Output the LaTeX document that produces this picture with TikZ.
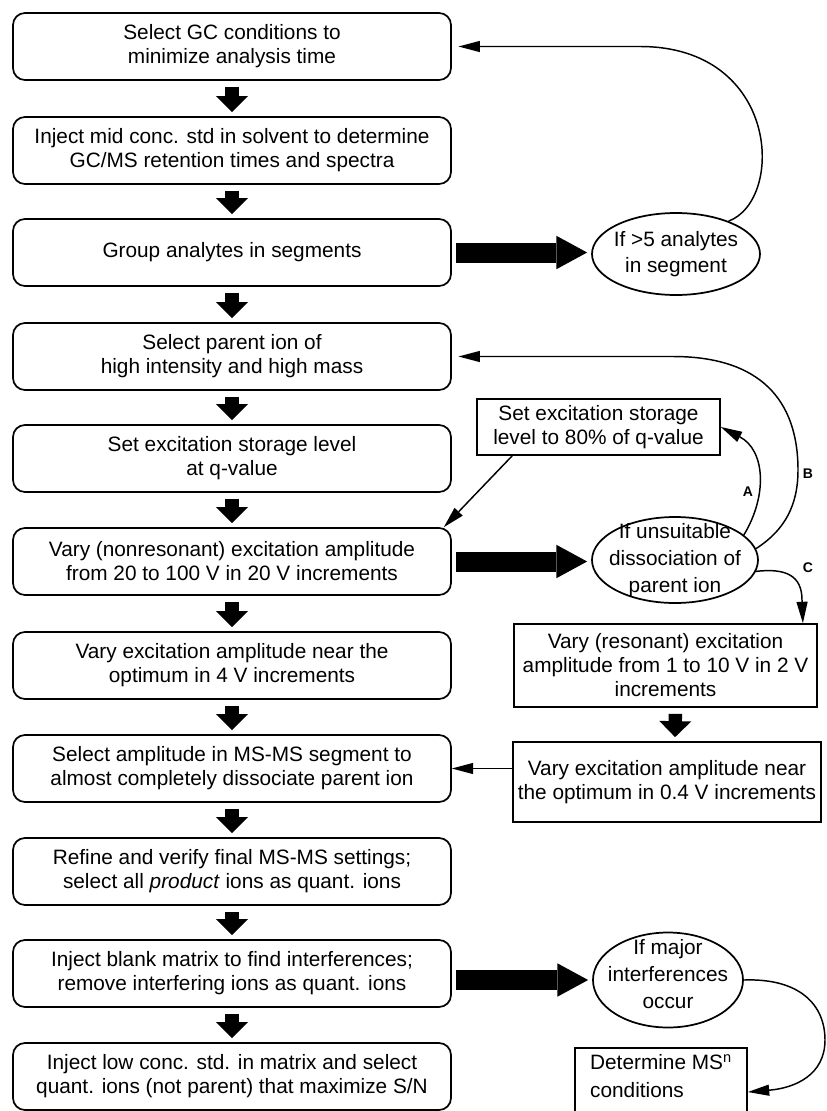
\documentclass[tikz,border=0pt]{standalone}
\usepackage{fontspec}
\setmainfont{Liberation Sans}
\usetikzlibrary{shapes.geometric,arrows.meta,calc}
\begin{document}
\begin{tikzpicture}[x=0.75pt,y=-0.75pt,
  every node/.style={font=\fontsize{15.6pt}{18pt}\selectfont},
  stepbox/.style={draw,line width=1.3pt,rounded corners=9pt,minimum width=328.5pt,minimum height=50.25pt,align=center,inner sep=2pt},
  plainbox/.style={draw,line width=1.3pt,align=center,inner sep=2pt},
  decision/.style={draw,ellipse,line width=1.3pt,inner sep=0pt},
  dectext/.style={align=center,font=\fontsize{15.6pt}{20pt}\selectfont},
  blockarrow/.style={line width=10pt,-{Triangle[length=12pt,width=24pt,line width=0pt]},shorten <=4.5pt,shorten >=3pt},
  bigarrow/.style={line width=15pt,-{Triangle[length=23pt,width=25pt,line width=0pt]},shorten <=3pt,shorten >=3pt},
  thinarrow/.style={line width=1.1pt,-{Triangle[length=16pt,width=8.5pt,line width=0pt]}},
  lbl/.style={font=\fontsize{10.5pt}{12pt}\selectfont\bfseries,inner sep=0pt}
]
\useasboundingbox (0,0) rectangle (827,1111);
\fill[white] (0,0) rectangle (827,1111);

% left column
\node[stepbox] (b1) at (232,46.5) {Select GC conditions to\\minimize analysis time};
\node[stepbox] (b2) at (232,150.5) {Inject mid conc. std in solvent to determine\\GC/MS retention times and spectra};
\node[stepbox] (b3) at (232,252.5) {Group analytes in segments};
\node[stepbox] (b4) at (232,356.5) {Select parent ion of\\high intensity and high mass};
\node[stepbox] (b5) at (232,458.5) {Set excitation storage level\\at q-value};
\node[stepbox] (b6) at (232,561.5) {Vary (nonresonant) excitation amplitude\\from 20 to 100 V in 20 V increments};
\node[stepbox] (b7) at (232,665.5) {Vary excitation amplitude near the\\optimum in 4 V increments};
\node[stepbox] (b8) at (232,768.5) {Select amplitude in MS-MS segment to\\almost completely dissociate parent ion};
\node[stepbox] (b9) at (232,871.5) {Refine and verify final MS-MS settings;\\select all \textit{product} ions as quant. ions};
\node[stepbox] (b10) at (232,973.5) {Inject blank matrix to find interferences;\\remove interfering ions as quant. ions};
\node[stepbox] (b11) at (232,1076.5) {Inject low conc. std. in matrix and select\\quant. ions (not parent) that maximize S/N};

% decisions
\node[decision,minimum width=126pt,minimum height=61.5pt,
  label={[dectext]center:{If >5 analytes\\in segment}}] (e1) at (676,254) {};
\node[decision,minimum width=124.5pt,minimum height=64.5pt,
  label={[dectext]center:{If unsuitable\\dissociation of\\parent ion}}] (e2) at (675,560) {};
\node[decision,minimum width=112.5pt,minimum height=71.25pt,
  label={[dectext,yshift=4.5pt]center:{If major\\interferences\\occur}}] (e3) at (668,980) {};

% right boxes
\node[plainbox,minimum width=182.25pt,minimum height=42pt] (r1) at (598.5,427) {Set excitation storage\\level to 80\% of q-value};
\node[plainbox,minimum width=227.25pt,minimum height=62.25pt] (r2) at (665.5,665.5) {Vary (resonant) excitation\\amplitude from 1 to 10 V in 2 V\\increments};
\node[plainbox,minimum width=231pt,minimum height=60pt] (r3) at (667,782) {Vary excitation amplitude near\\the optimum in 0.4 V increments};
\node[draw,line width=1.3pt,anchor=north,align=left,minimum width=129pt,inner xsep=2pt,inner ysep=5pt,
  font=\fontsize{15.6pt}{21pt}\selectfont] (r4) at (661,1047) {Determine MS\textsuperscript{n}\\conditions\\\mbox{}};

% labels
\node[lbl] (lA) at (748,492) {A};
\node[lbl] (lB) at (808,474) {B};
\node[lbl] (lC) at (808,568) {C};

% block arrows down
\foreach \a/\b in {b1/b2,b2/b3,b3/b4,b4/b5,b5/b6,b6/b7,b7/b8,b8/b9,b9/b10,b10/b11}
  \draw[blockarrow] (\a.south) -- (\b.north);
\draw[blockarrow] ($(r2.south)+(10,0)$) -- ($(r3.north)+(8,0)$);

% big horizontal arrows
\draw[bigarrow] (b3.east) -- (b3.east -| e1.west);
\draw[bigarrow] (b6.east) -- (b6.east -| e2.west);
\draw[bigarrow] (b10.east |- e3.west) -- (e3.west);

% loops
\draw[thinarrow,shorten >=5pt] (e1.32) .. controls (785,200) and (780,46.5) .. (640,46.5) -- (b1.east);
\draw[thinarrow,shorten >=5pt] (e2.8) .. controls (785,530) and (798,505) .. (798,470)
  .. controls (798,400) and (760,356.5) .. (673,356.5) -- (b4.east);
\draw[thinarrow] (e2.20) .. controls (768,495) and (765,450) .. (r1.east);
\coordinate (ctop) at ($(r2.north east)+(-15,0)$);
\draw[thinarrow] (e2.-8) .. controls (785,568) and (802,575) .. (802,600) -- (ctop);
\draw[thinarrow] ($(r1.south west)+(36,0)$) -- ($(b6.north east)+(-8,0)$);
\draw[thinarrow] (r3.west |- b8.east) -- (b8.east);
\coordinate (r4tip) at ($(r4.north east)+(0,45)$);
\draw[thinarrow] (e3.east) .. controls (800,978) and (825,1005) .. (825,1040)
  .. controls (825,1075) and (795,1088) .. (r4tip);
\end{tikzpicture}
\end{document}
